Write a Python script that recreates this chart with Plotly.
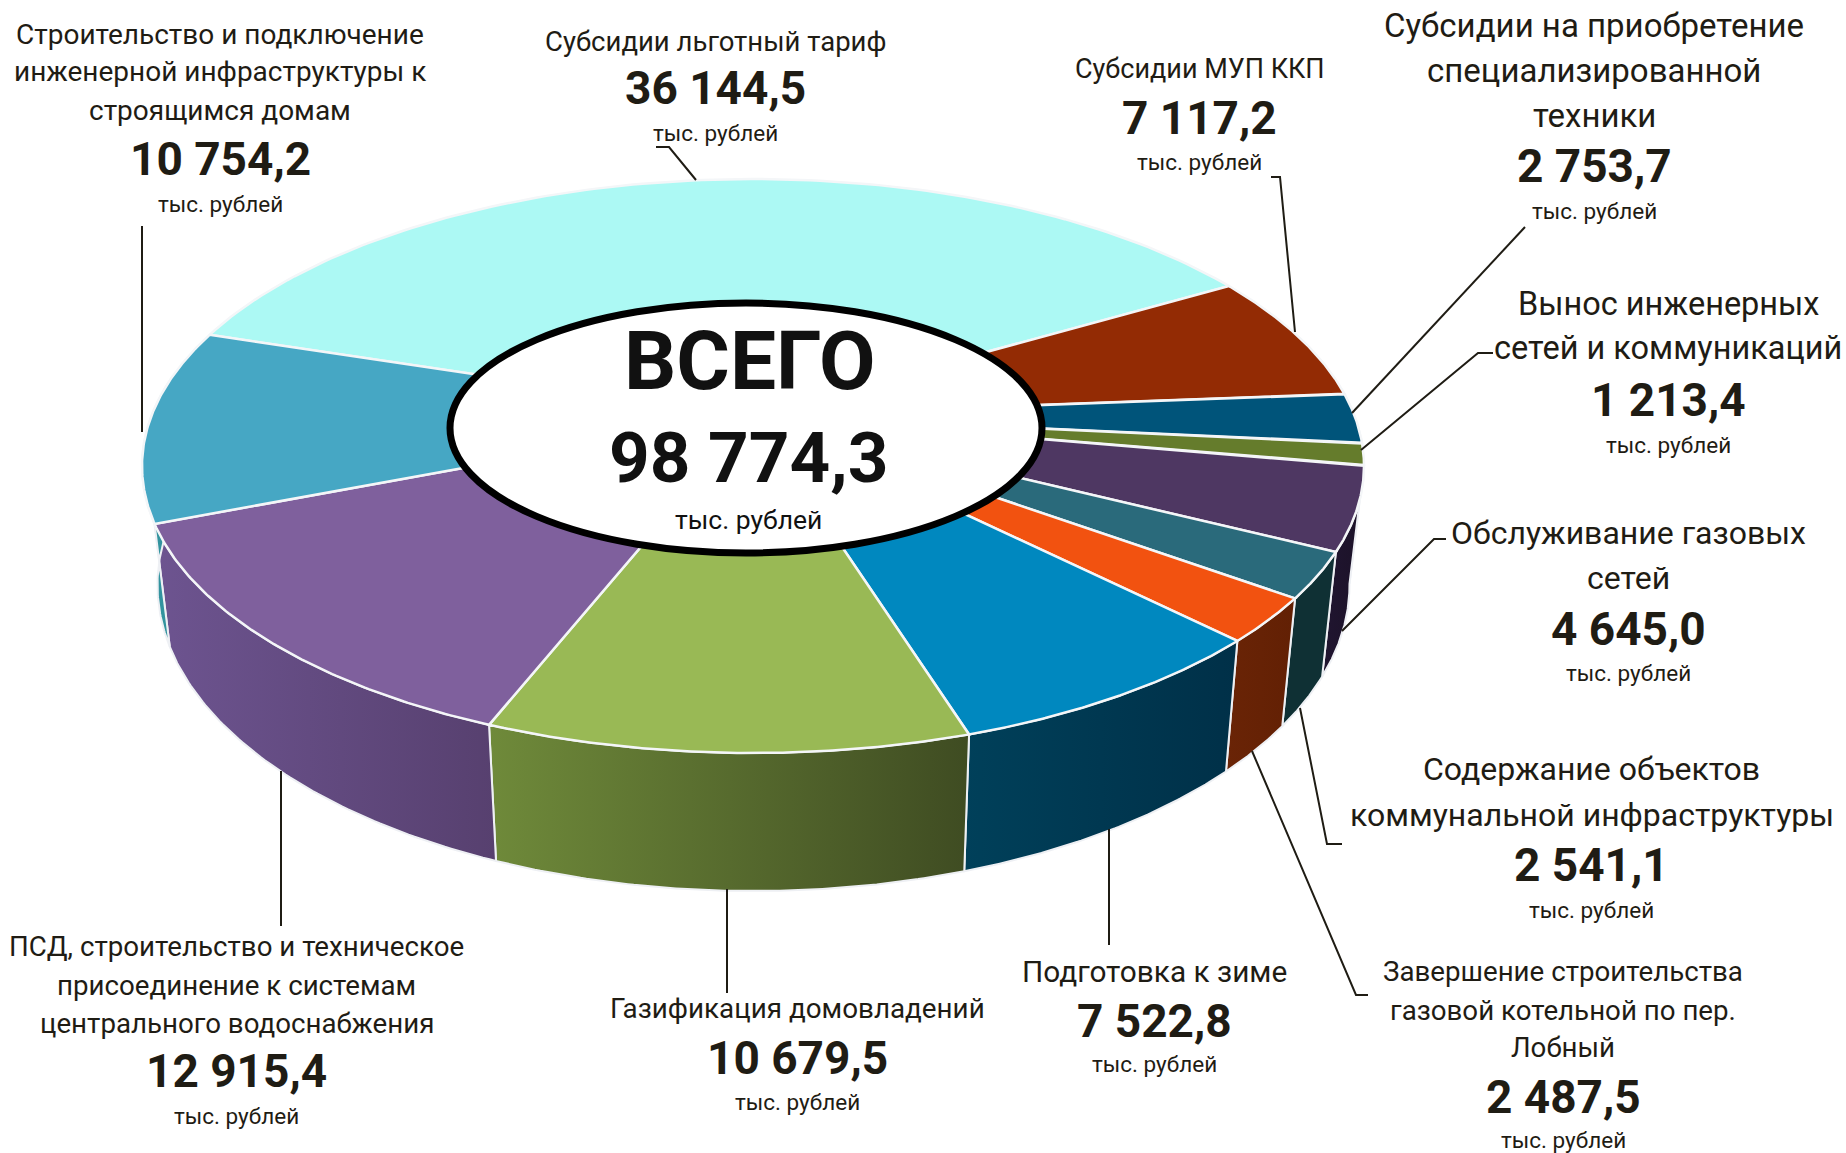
import numpy as np
import plotly.graph_objects as go

# ---- data ----
categories = [
    ["Субсидии льготный тариф"],
    ["Субсидии МУП ККП"],
    ["Субсидии на приобретение", "специализированной", "техники"],
    ["Вынос инженерных", "сетей и коммуникаций"],
    ["Обслуживание газовых", "сетей"],
    ["Содержание объектов", "коммунальной инфраструктуры"],
    ["Завершение строительства", "газовой котельной по пер.", "Лобный"],
    ["Подготовка к зиме"],
    ["Газификация домовладений"],
    ["ПСД, строительство и техническое", "присоединение к системам", "центрального водоснабжения"],
    ["Строительство и подключение", "инженерной инфраструктуры к", "строящимся домам"],
]
values = [36144.5, 7117.2, 2753.7, 1213.4, 4645.0, 2541.1, 2487.5, 7522.8, 10679.5, 12915.4, 10754.2]
unit = "тыс. рублей"
total_title = "ВСЕГО"

# ---- styling ----
top_colors = ["#ACF9F4", "#932B04", "#00547A", "#657C2C", "#4E3762", "#2A6A7B",
              "#F25210", "#0088BF", "#99B955", "#7F609D", "#46A7C4"]
wall_colors = [("#7ce0dc", "#7ce0dc"), ("#661e03", "#661e03"), ("#003a55", "#003a55"),
               ("#465720", "#465720"), ("#201530", "#1c1228"), ("#0f3034", "#0f3034"),
               ("#6a2406", "#622004"), ("#00405a", "#003048"), ("#6f8a3a", "#3f4c22"),
               ("#6d5490", "#57406f"), ("#3596a0", "#2f8f9c")]

# label layout: centre x and the y of every line (reference pixels)
S = 1846 / 1568
label_x = [608, 1019, 1354, 1417, 1383, 1352, 1328, 981, 677, 201, 187]
label_y = [[35], [59], [22, 60, 98], [258, 296], [453, 491], [653, 692], [825, 858, 890],
           [825], [857], [804, 837, 869], [29, 61, 94]]
value_y = [75, 100, 141, 340, 534, 735, 932, 867, 899, 910, 135]
unit_y = [113, 138, 179, 378, 572, 773, 968, 904, 936, 948, 173]
label_size = [27.5, 27, 33, 32.5, 32, 32, 27.7, 29.8, 27.8, 27.7, 28]

leaders = [
    [(656, 147), (669, 147), (696, 180)],
    [(1271, 177), (1280, 177), (1295, 332)],
    [(1525, 227), (1352, 413)],
    [(1493, 353), (1478, 353), (1361, 450)],
    [(1446, 539), (1434, 539), (1342, 631)],
    [(1300, 708), (1327, 844), (1342, 844)],
    [(1252, 751), (1356, 995), (1368, 995)],
    [(1109, 829), (1109, 945)],
    [(727, 889), (727, 993)],
    [(281, 771), (281, 926)],
    [(142, 226), (142, 432)],
]

# perspective of the disc
B = 0.176
START = 162.2
TOP = (753, 466, 611, 287)
BOT = (753.5, 585, 596, 306)


def project(t_deg):
    t = np.radians(t_deg)
    den = 1 + B * np.sin(t)
    return np.sqrt(1 - B ** 2) * np.cos(t) / den, (np.sin(t) + B) / den


def on_plane(plane, cx, sy):
    return plane[0] + plane[2] * cx, plane[1] - plane[3] * sy


fig = go.Figure()
shares = np.array(values) / sum(values) * 360
edges = START - np.concatenate([[0], np.cumsum(shares)])

# side walls
for i, v in enumerate(values):
    ts = np.linspace(edges[i], edges[i + 1], 80)
    cx, sy = project(ts)
    mask = sy < 0.32
    if mask.sum() < 2:
        continue
    xt, yt = on_plane(TOP, cx[mask], sy[mask])
    xb, yb = on_plane(BOT, cx[mask], sy[mask])
    xs = np.concatenate([xt, xb[::-1], xt[:1]])
    ys = np.concatenate([yt, yb[::-1], yt[:1]])
    c1, c2 = wall_colors[i]
    fig.add_trace(go.Scatter(
        x=xs, y=ys, mode="lines", fill="toself",
        fillgradient=dict(type="horizontal", colorscale=[[0, c1], [1, c2]]),
        line=dict(color="#eef0f4", width=2), hoverinfo="skip", showlegend=False,
        name=categories[i][0]))

# top faces
ax, ay = on_plane(TOP, 0.0, B)
for i, v in enumerate(values):
    ts = np.linspace(edges[i], edges[i + 1], 120)
    cx, sy = project(ts)
    xt, yt = on_plane(TOP, cx, sy)
    fig.add_trace(go.Scatter(
        x=np.concatenate([[ax], xt, [ax]]), y=np.concatenate([[ay], yt, [ay]]),
        mode="lines", fill="toself", fillcolor=top_colors[i],
        line=dict(color="#f4f6f8", width=2.5), hoverinfo="skip", showlegend=False,
        name=categories[i][0]))

# leader lines
for pts in leaders:
    fig.add_trace(go.Scatter(
        x=[p[0] for p in pts], y=[p[1] for p in pts], mode="lines",
        line=dict(color="#1f1c14", width=2), hoverinfo="skip", showlegend=False))

FONT = "Roboto"
TXT = "#1f1c14"


def fmt(v):
    return f"{v:,.1f}".replace(",", "\u00a0").replace(".", ",")


def note(x, y, text, size, bold=False, color=TXT):
    fig.add_annotation(
        x=x * S, y=y * S, text=f"<b>{text}</b>" if bold else text, showarrow=False,
        xanchor="center", yanchor="middle", align="center",
        font=dict(family=FONT, size=size, color=color))


for i, v in enumerate(values):
    for line, y in zip(categories[i], label_y[i]):
        note(label_x[i], y, line, label_size[i])
    note(label_x[i], value_y[i], fmt(v), 46, bold=True)
    note(label_x[i], unit_y[i], unit, 22.5)

note(637, 307, total_title, 82, bold=True, color="#111111")
note(636, 389, fmt(sum(values)), 71, bold=True, color="#111111")
note(636, 441, unit, 26.5, color="#111111")

# central hole
fig.add_shape(type="circle", xref="x", yref="y", x0=450, x1=1042, y0=303, y1=553,
              fillcolor="white", line=dict(color="black", width=7), layer="above")

fig.update_layout(
    width=1846, height=1153, autosize=False,
    margin=dict(l=0, r=0, t=0, b=0),
    paper_bgcolor="white", plot_bgcolor="white",
    xaxis=dict(range=[0, 1846], visible=False, fixedrange=True),
    yaxis=dict(range=[1153, 0], visible=False, fixedrange=True),
    showlegend=False,
)
fig.write_html("out.html", post_script="document.body.style.margin='0';",
               config={"displayModeBar": False})
